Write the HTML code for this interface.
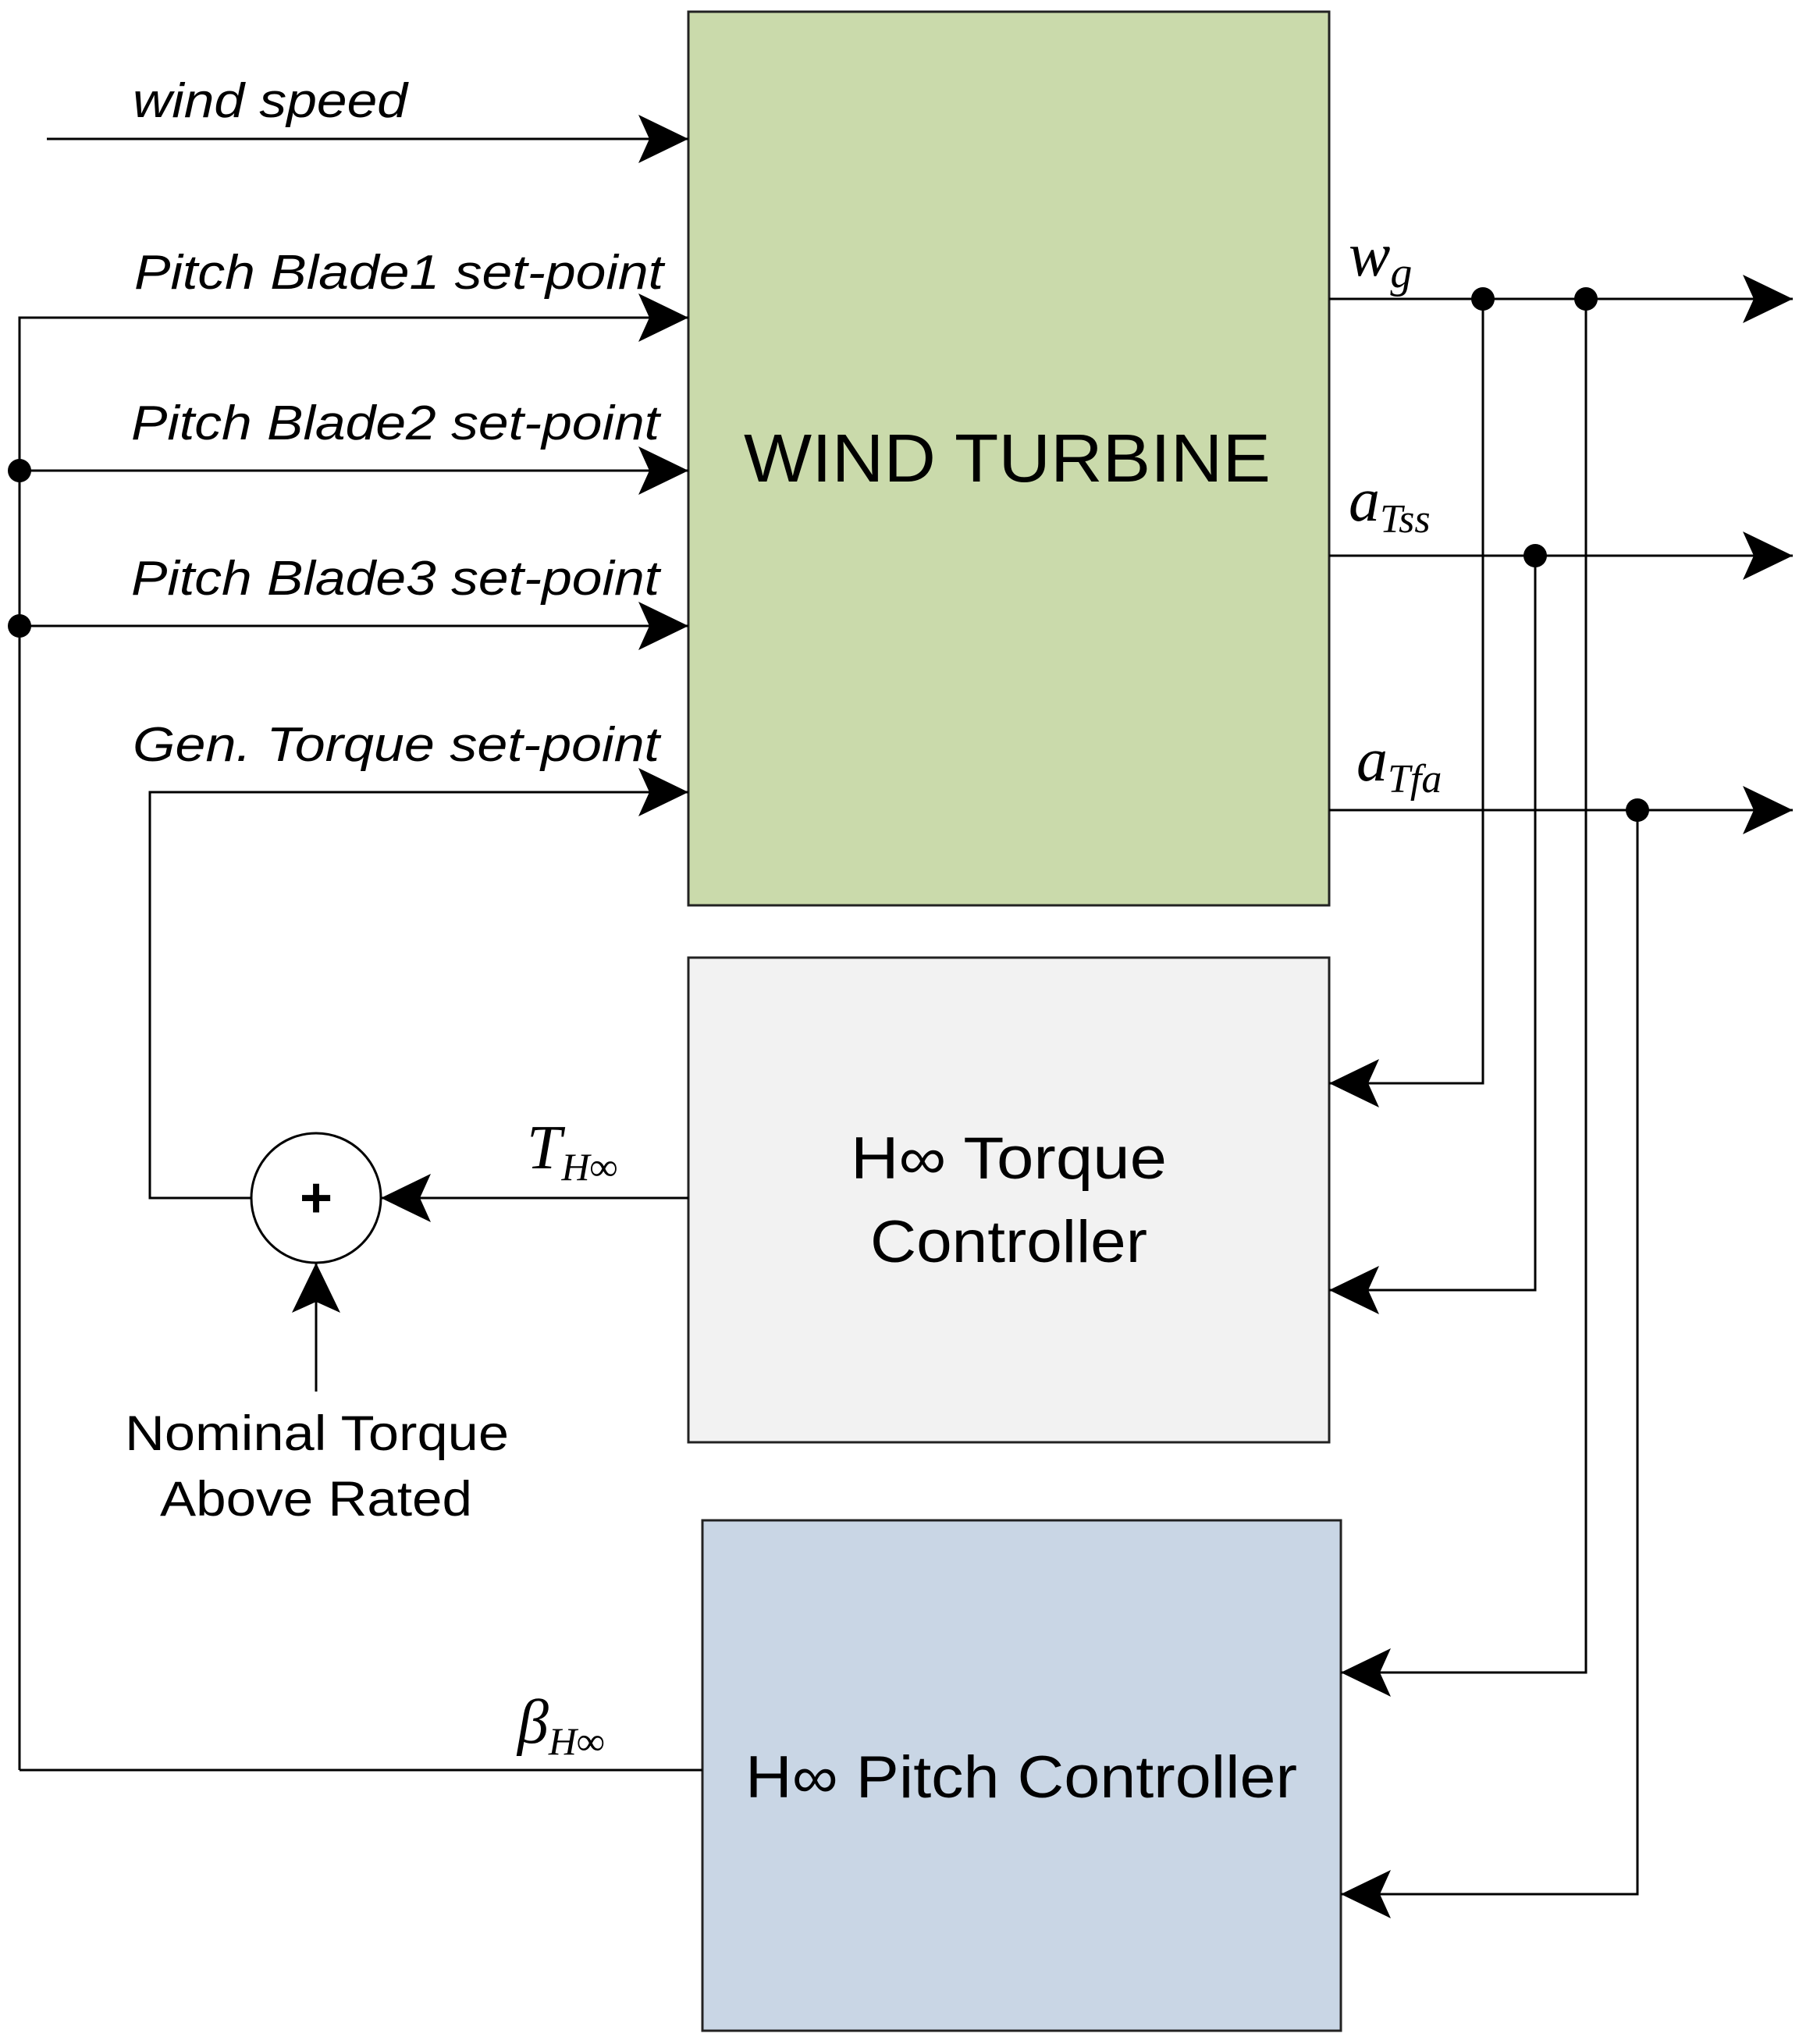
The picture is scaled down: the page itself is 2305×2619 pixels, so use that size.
<!DOCTYPE html>
<html><head><style>body{margin:0;background:#fff}</style></head><body>
<svg width="2305" height="2614" viewBox="0 0 2305 2614" xmlns="http://www.w3.org/2000/svg">
<defs>
<marker id="a" markerWidth="64" markerHeight="62" refX="64" refY="31" markerUnits="userSpaceOnUse" orient="auto"><path d="M0,0 L64,31 L0,62 L14,31 Z" fill="#000"/></marker>
</defs>
<g stroke="#222" stroke-width="3">
<rect x="882" y="15" width="821" height="1145" fill="#cadaab"/>
<rect x="882" y="1227" width="821" height="621" fill="#f2f2f2"/>
<rect x="900" y="1948" width="818" height="654" fill="#c9d6e5"/>
</g>
<g stroke="#000" stroke-width="3" fill="none">
<line x1="60" y1="178" x2="882" y2="178" marker-end="url(#a)"/>
<polyline points="25,2268 25,407 882,407" marker-end="url(#a)"/>
<line x1="25" y1="603" x2="882" y2="603" marker-end="url(#a)"/>
<line x1="25" y1="802" x2="882" y2="802" marker-end="url(#a)"/>
<polyline points="322,1535 192,1535 192,1015 882,1015" marker-end="url(#a)"/>
<line x1="882" y1="1535" x2="488" y2="1535" marker-end="url(#a)"/>
<line x1="405" y1="1783" x2="405" y2="1618" marker-end="url(#a)"/>
<line x1="900" y1="2268" x2="25" y2="2268"/>
<line x1="1703" y1="383" x2="2297" y2="383" marker-end="url(#a)"/>
<line x1="1703" y1="712" x2="2297" y2="712" marker-end="url(#a)"/>
<line x1="1703" y1="1038" x2="2297" y2="1038" marker-end="url(#a)"/>
<polyline points="1900,383 1900,1388 1703,1388" marker-end="url(#a)"/>
<polyline points="1967,712 1967,1653 1703,1653" marker-end="url(#a)"/>
<polyline points="2032,383 2032,2143 1718,2143" marker-end="url(#a)"/>
<polyline points="2098,1038 2098,2427 1718,2427" marker-end="url(#a)"/>
<circle cx="405" cy="1535" r="83" fill="#fff"/>
</g>
<g fill="#000">
<circle cx="25" cy="603" r="15"/><circle cx="25" cy="802" r="15"/>
<circle cx="1900" cy="383" r="15"/><circle cx="2032" cy="383" r="15"/>
<circle cx="1967" cy="712" r="15"/><circle cx="2098" cy="1038" r="15"/>
</g>
<g font-family="Liberation Sans, sans-serif" fill="#000">
<text x="405" y="1559" font-size="72" font-weight="bold" text-anchor="middle">+</text>
<g font-style="italic" font-size="62" lengthAdjust="spacingAndGlyphs">
<text x="170" y="150" textLength="352" lengthAdjust="spacingAndGlyphs">wind speed</text>
<text x="172" y="370" textLength="678" lengthAdjust="spacingAndGlyphs">Pitch Blade1 set-point</text>
<text x="168" y="563" textLength="677" lengthAdjust="spacingAndGlyphs">Pitch Blade2 set-point</text>
<text x="168" y="762" textLength="677" lengthAdjust="spacingAndGlyphs">Pitch Blade3 set-point</text>
<text x="170" y="975" textLength="675" lengthAdjust="spacingAndGlyphs">Gen. Torque set-point</text>
</g>
<text x="953" y="617" font-size="87" textLength="675" lengthAdjust="spacingAndGlyphs">WIND TURBINE</text>
<text x="1090" y="1510" font-size="76" textLength="405" lengthAdjust="spacingAndGlyphs">H∞ Torque</text>
<text x="1115" y="1617" font-size="76" textLength="355" lengthAdjust="spacingAndGlyphs">Controller</text>
<text x="955" y="2303" font-size="76" textLength="707" lengthAdjust="spacingAndGlyphs">H∞ Pitch Controller</text>
<text x="160" y="1858" font-size="63" textLength="492" lengthAdjust="spacingAndGlyphs">Nominal Torque</text>
<text x="205" y="1942" font-size="63" textLength="400" lengthAdjust="spacingAndGlyphs">Above Rated</text>
</g>
<g font-family="Liberation Serif, serif" font-style="italic" fill="#000">
<text x="1728" y="353" font-size="80">w<tspan font-size="56" dy="15">g</tspan></text>
<text x="1728" y="667" font-size="80">a<tspan font-size="52" dy="15">Tss</tspan></text>
<text x="1738" y="1000" font-size="80">a<tspan font-size="52" dy="15">Tfa</tspan></text>
<text x="675" y="1497" font-size="80">T<tspan font-size="50" dy="15">H∞</tspan></text>
<text x="663" y="2233" font-size="80">β<tspan font-size="50" dy="15">H∞</tspan></text>
</g>
</svg>
</body></html>
